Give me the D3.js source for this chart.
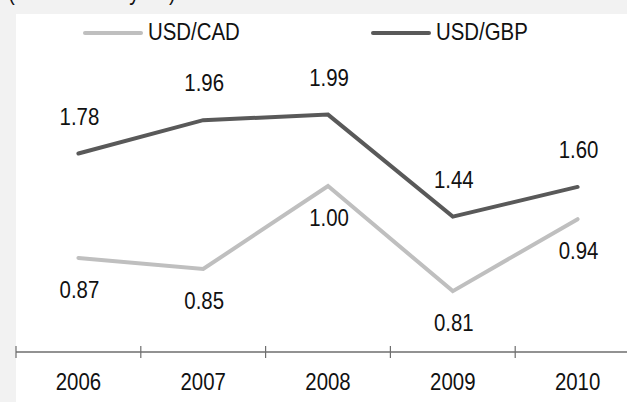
<!DOCTYPE html>
<html>
<head>
<meta charset="utf-8">
<script src="https://cdn.jsdelivr.net/npm/d3@7/dist/d3.min.js"></script>
<style>
  html, body { margin: 0; padding: 0; background: #f2f2f2; }
  svg { display: block; }
  text { font-family: "Liberation Sans", Arial, sans-serif; fill: #111; }
</style>
</head>
<body>
<script>
// Exchange rates, yearly
const years = ["2006", "2007", "2008", "2009", "2010"];
const usdCad = [0.87, 0.85, 1.00, 0.81, 0.94];
const usdGbp = [1.78, 1.96, 1.99, 1.44, 1.60];
const seriesNames = ["USD/CAD", "USD/GBP"];
const seriesColors = ["#bfbfbf", "#595959"];
const subtitle = "(As at end of year)";

const W = 627, H = 402;
const plot = { left: 16, top: 14 };
const axisY = 352;
const FONT = 24, SQUEEZE = 0.85;

const svg = d3.select("body").append("svg")
  .attr("width", W).attr("height", H);

svg.append("rect").attr("width", W).attr("height", H).attr("fill", "#f2f2f2");
svg.append("rect")
  .attr("x", plot.left).attr("y", plot.top)
  .attr("width", W - plot.left).attr("height", H - plot.top)
  .attr("fill", "#ffffff");

// helper: condensed text label
function label(g, x, y, str, anchor) {
  return g.append("text")
    .attr("transform", `translate(${x},${y}) scale(${SQUEEZE},1)`)
    .attr("text-anchor", anchor || "middle")
    .attr("font-size", FONT)
    .text(str);
}

label(svg, 8, 0, subtitle, "start");

// Category axis: bands run past the right edge
const x = d3.scaleBand().domain(years).range([plot.left, 640]).paddingInner(0).paddingOuter(0);
// Each series sits on its own (hidden) value axis
const yCad = d3.scaleLinear().domain([0.70, 1.30]).range([axisY, 20]);
const yGbp = d3.scaleLinear().domain([0.71, 2.50]).range([axisY, 20]);

// Axis line with tick marks on band boundaries
const axisG = svg.append("g");
axisG.append("line")
  .attr("x1", plot.left).attr("x2", W)
  .attr("y1", axisY).attr("y2", axisY)
  .attr("stroke", "#6e6e6e").attr("stroke-width", 1.5);
axisG.selectAll("line.tick").data(years).join("line")
  .attr("class", "tick")
  .attr("x1", d => x(d)).attr("x2", d => x(d))
  .attr("y1", axisY - 6).attr("y2", axisY + 6)
  .attr("stroke", "#6e6e6e").attr("stroke-width", 1.2);
years.forEach(d => label(axisG, x(d) + x.bandwidth() / 2, 390, d));

const cx = d => x(d) + x.bandwidth() / 2;

const series = [
  { name: seriesNames[0], values: usdCad, scale: yCad, color: seriesColors[0], dy: 40 },
  { name: seriesNames[1], values: usdGbp, scale: yGbp, color: seriesColors[1], dy: -29 }
];

const line = s => d3.line()
  .x((v, i) => cx(years[i]))
  .y(v => s.scale(v));

series.forEach(s => {
  svg.append("path")
    .datum(s.values)
    .attr("d", line(s))
    .attr("fill", "none")
    .attr("stroke", s.color)
    .attr("stroke-width", 4)
    .attr("stroke-linejoin", "miter")
    .attr("stroke-linecap", "round");
  const lg = svg.append("g");
  s.values.forEach((v, i) => label(lg, cx(years[i]) + 1, s.scale(v) + s.dy, v.toFixed(2)));
});

// Legend
const legendX = [85, 373];
series.forEach((s, i) => {
  svg.append("line")
    .attr("x1", legendX[i]).attr("x2", legendX[i] + 56)
    .attr("y1", 33).attr("y2", 33)
    .attr("stroke", s.color).attr("stroke-width", 4)
    .attr("stroke-linecap", "round");
  label(svg, legendX[i] + 63, 40, s.name, "start");
});
</script>
</body>
</html>
